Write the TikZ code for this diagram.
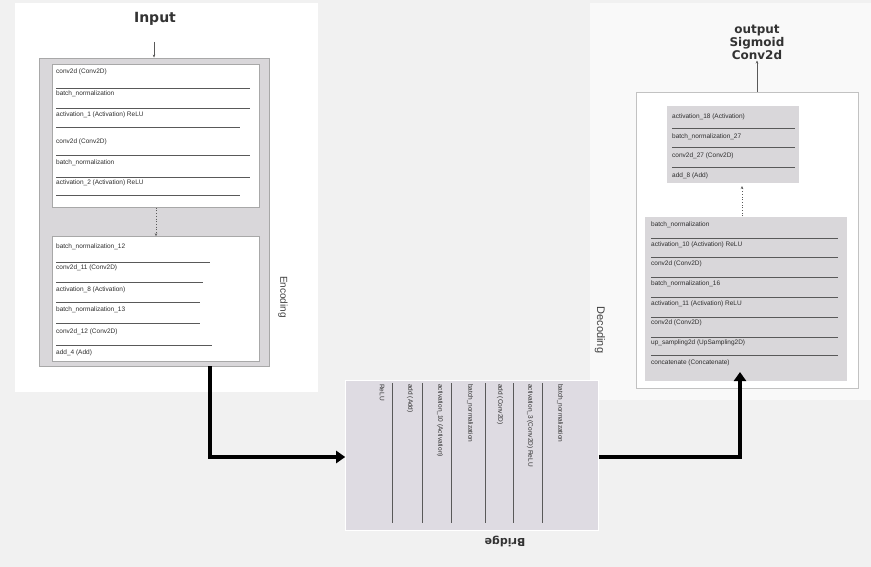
\documentclass[tikz,border=0pt]{standalone}
\usepackage{fontspec}
\setmainfont{Liberation Sans}
\newfontfamily\headfont{DejaVu Sans}
\usetikzlibrary{arrows.meta}
\definecolor{bgcol}{HTML}{F1F1F1}
\definecolor{boxgray}{HTML}{D9D7DA}
\definecolor{midgray}{HTML}{DEDBE2}
\definecolor{edgegray}{HTML}{A8A8A8}
\definecolor{rowtext}{HTML}{2E2E2E}
\tikzset{
  outerbox/.style={draw=edgegray, line width=0.8pt, fill=boxgray, inner sep=0pt},
  whitebox/.style={draw=edgegray, line width=0.6pt, fill=white, inner sep=0pt},
  graybox/.style={draw=white, line width=0.6pt, fill=boxgray, inner sep=0pt},
  decout/.style={draw=edgegray!70, line width=0.6pt, fill=white, inner sep=0pt},
  rowlabel/.style={anchor=west, font=\fontsize{6.5}{7.5}\selectfont, text=rowtext, inner sep=0pt},
  collabel/.style={anchor=west, rotate=-90, font=\fontsize{6.5}{7.5}\selectfont, text=rowtext, inner sep=0pt},
  sepline/.style={draw=gray!70!black, line width=0.6pt},
  heading/.style={font=\headfont\bfseries\fontsize{12}{13}\selectfont, text=black!80, align=center, inner sep=1pt},
  sidelabel/.style={font=\fontsize{10}{11}\selectfont, text=black!75, rotate=-90, inner sep=1pt},
  thin arrow/.style={draw=gray!70!black, line width=0.5pt, -{Stealth[length=3pt,width=2.5pt]}},
  dots arrow/.style={draw=gray!70!black, line width=0.7pt, dotted, -{Stealth[length=3pt,width=2.5pt]}},
  fat arrow/.style={draw=black, line width=4.5pt, -{Triangle[length=9pt,width=12pt]}}
}
\begin{document}
\begin{tikzpicture}[x=1pt,y=-1pt]
\useasboundingbox (0,0) rectangle (871,567);
% background
\fill[bgcol] (0,0) rectangle (871,567);
\fill[white] (15,3) rectangle (318,392);
\fill[white!60!bgcol] (590,3) rectangle (871,400);

% ---------------- Encoder ----------------
\node[heading, font=\headfont\bfseries\fontsize{14}{15}\selectfont] (input) at (155,19) {Input};
\node[outerbox, minimum width=230pt, minimum height=308pt] (encout) at (154,212) {};
\node[whitebox, minimum width=207pt, minimum height=143pt] (enc1) at (156,136) {};
\node[whitebox, minimum width=207pt, minimum height=125pt] (enc2) at (156,299) {};
\coordinate (inA) at (154,42);
\draw[thin arrow] (inA) -- (encout.north);
\draw[dots arrow] (enc1.south) -- (enc2.north);

\foreach \y/\t/\ly/\lx [count=\i] in {
  72/{conv2d (Conv2D)}/88/250,
  94/{batch\_normalization}/108/250,
  115/{activation\_1 (Activation) ReLU}/127/240,
  142/{conv2d (Conv2D)}/155/250,
  163/{batch\_normalization}/177/250,
  183/{activation\_2 (Activation) ReLU}/195/240}{
  \node[rowlabel] (ea\i) at (56,\y) {\t};
  \draw[sepline] (56,\ly) -- (\lx,\ly);
}
\foreach \y/\t/\ly/\lx [count=\i] in {
  247/{batch\_normalization\_12}/262/210,
  268/{conv2d\_11 (Conv2D)}/282/203,
  290/{activation\_8 (Activation)}/302/200,
  310/{batch\_normalization\_13}/323/200,
  332/{conv2d\_12 (Conv2D)}/345/212}{
  \node[rowlabel] (eb\i) at (56,\y) {\t};
  \draw[sepline] (56,\ly) -- (\lx,\ly);
}
\node[rowlabel] (eb6) at (56,353) {add\_4 (Add)};
\node[sidelabel] (enclab) at (283,297) {Encoding};

% ---------------- Bridge ----------------
\node[graybox, fill=midgray, minimum width=253pt, minimum height=150pt] (mid) at (472,455) {};
\foreach \x in {392,422,451,485,513,542}{
  \draw[sepline] (\x,383) -- (\x,523);
}
\foreach \x/\t [count=\i] in {
  382/{ReLU},
  410/{add (Add)},
  440/{activation\_10 (Activation)},
  470/{batch\_normalization},
  500/{add (Conv2D)},
  530/{activation\_3 (Conv2D) ReLU},
  560/{batch\_normalization}}{
  \node[collabel] (mc\i) at (\x,384) {\t};
}
\node[font=\headfont\bfseries\fontsize{11}{12}\selectfont, text=black!80, rotate=180] (midlab) at (505,541) {Bridge};

% ---------------- Decoder ----------------
\node[heading] (output) at (757,42) {output\\Sigmoid\\Conv2d};
\node[decout, minimum width=222pt, minimum height=296pt] (decout) at (747,240) {};
\node[graybox, minimum width=133pt, minimum height=78pt] (dec1) at (733,144) {};
\node[graybox, minimum width=203pt, minimum height=165pt] (dec2) at (746,299) {};
\draw[thin arrow] (decout.north -| output.south) -- (output.south);
\draw[dots arrow] (dec2.north -| 742,0) -- (742,186);

\foreach \y/\t/\ly [count=\i] in {
  117/{activation\_18 (Activation)}/128,
  137/{batch\_normalization\_27}/147,
  156/{conv2d\_27 (Conv2D)}/167}{
  \node[rowlabel] (da\i) at (672,\y) {\t};
  \draw[sepline] (672,\ly) -- (795,\ly);
}
\node[rowlabel] (da4) at (672,176) {add\_8 (Add)};

\foreach \y/\t/\ly [count=\i] in {
  225/{batch\_normalization}/238,
  245/{activation\_10 (Activation) ReLU}/257,
  264/{conv2d (Conv2D)}/277,
  284/{batch\_normalization\_16}/297,
  304/{activation\_11 (Activation) ReLU}/317,
  323/{conv2d (Conv2D)}/337,
  343/{up\_sampling2d (UpSampling2D)}/355}{
  \node[rowlabel] (db\i) at (651,\y) {\t};
  \draw[sepline] (651,\ly) -- (838,\ly);
}
\node[rowlabel] (db8) at (651,363) {concatenate (Concatenate)};
\node[sidelabel, font=\fontsize{11}{12}\selectfont] (declab) at (600,330) {Decoding};

% ---------------- Main connectors ----------------
\coordinate (c1) at (210,457);
\draw[fat arrow] (encout.south -| c1) -- (c1) -- (mid.west |- c1);
\coordinate (c2) at (740,457);
\draw[fat arrow] (mid.east |- c2) -- (c2) -- (740,372);
\end{tikzpicture}
\end{document}
